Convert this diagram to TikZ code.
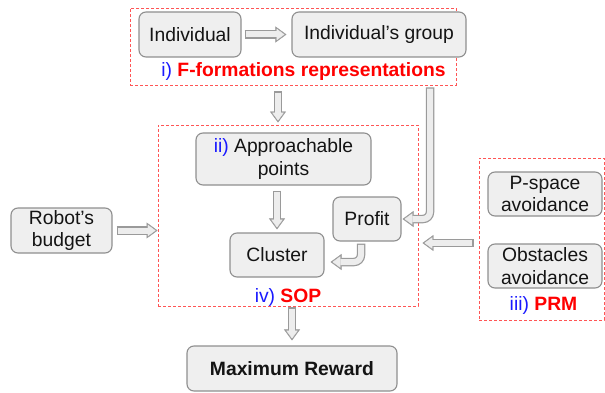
\documentclass[tikz,border=0pt]{standalone}
\usepackage{fontspec}
\setmainfont{Liberation Sans}
\usetikzlibrary{arrows.meta,calc}
\definecolor{boxfill}{HTML}{EFEFEF}
\definecolor{boxedge}{HTML}{8F8F8F}
\definecolor{arredge}{HTML}{9A9A9A}
\definecolor{arrfill}{HTML}{EDEDED}
\definecolor{dashred}{HTML}{FF5555}
\definecolor{lblblue}{HTML}{1A1AFF}
\definecolor{lblred}{HTML}{FF0000}
\newcommand\blockarr[3]{%
  \draw[barout,shorten <=#1,shorten >=#2] #3;
  \draw[barin,shorten <=#1+1.2pt,shorten >=#2+2pt] #3;}
\begin{document}
\begin{tikzpicture}[x=1pt,y=-1pt,
  txt/.style={font=\fontsize{19.3}{22.5}\selectfont, align=center, text=black!92},
  box/.style={txt, draw=boxedge, fill=boxfill, line width=1.1pt, rounded corners=7pt, inner sep=0pt},
  dashbox/.style={draw=dashred, line width=0.9pt, dash pattern=on 3pt off 2pt, inner sep=0pt},
  barout/.style={draw=arredge, line width=8.5pt, rounded corners=7pt, -{Triangle[length=11pt,width=16pt,line width=0.4pt]}},
  barin/.style={draw=arrfill, line width=6pt, rounded corners=7pt, -{Triangle[length=7.8pt,width=11.3pt,line width=0.4pt]}},
]
\useasboundingbox (0,0) rectangle (605,393);
% dashed group frames
\node[dashbox, minimum width=326pt, minimum height=77pt] (ff) at (293,46.5) {};
\node[dashbox, minimum width=260pt, minimum height=181pt] (sop) at (288,215.5) {};
\node[dashbox, minimum width=125pt, minimum height=162pt] (prm) at (541.5,239) {};
% boxes
\node[box, minimum width=102pt, minimum height=45pt] (ind) at (190,34.5) {Individual};
\node[box, minimum width=174pt, minimum height=45pt] (grp) at (379,34.5) {Individual’s group};
\node[box, minimum width=175pt, minimum height=52pt] (app) at (283.5,159) {\textcolor{lblblue}{ii)} Approachable\\points};
\node[box, minimum width=94pt, minimum height=44pt] (clu) at (277,255) {Cluster};
\node[box, minimum width=68pt, minimum height=44pt] (pro) at (367,219) {Profit};
\node[box, minimum width=101pt, minimum height=45pt] (bud) at (61.5,230.5) {Robot’s\\budget};
\node[box, minimum width=114pt, minimum height=44pt] (psp) at (545,194) {P-space\\avoidance};
\node[box, minimum width=114pt, minimum height=44pt] (obs) at (545,266) {Obstacles\\avoidance};
\node[box, minimum width=210pt, minimum height=45pt, font=\fontsize{19.3}{22.5}\selectfont\bfseries] (max) at (292,368.5) {Maximum Reward};
% labels
\node[txt, anchor=base] (lff) at (303.5,77) {\textcolor{lblblue}{i)} \textcolor{lblred}{\bfseries F-formations representations}};
\node[txt, anchor=base] (lsop) at (288,302.5) {\textcolor{lblblue}{iv)} \textcolor{lblred}{\bfseries SOP}};
\node[txt, anchor=base] (lprm) at (543.5,310) {\textcolor{lblblue}{iii)} \textcolor{lblred}{\bfseries PRM}};
% helper coordinates
\coordinate (a1) at (278,0);
\coordinate (a2) at (430,0);
\coordinate (a3) at (361,262);
\coordinate (a4) at (0,243);
% block arrows
\blockarr{3pt}{5pt}{(ind.east) -- (grp.west)}
\blockarr{6pt}{2pt}{(ff.south -| a1) -- (sop.north -| a1)}
\blockarr{5pt}{3pt}{(app.south -| clu.north) -- (clu.north)}
\blockarr{2pt}{1pt}{(ff.south -| a2) -- (a2 |- pro.east) -- (pro.east)}
\blockarr{2pt}{6pt}{(pro.south -| a3) -- (a3) -- (clu.east |- a3)}
\blockarr{4pt}{0pt}{(bud.east) -- (sop.west |- bud.east)}
\blockarr{5pt}{4pt}{(prm.west |- a4) -- (sop.east |- a4)}
\blockarr{1pt}{5pt}{(sop.south -| max.north) -- (max.north)}
\end{tikzpicture}
\end{document}
